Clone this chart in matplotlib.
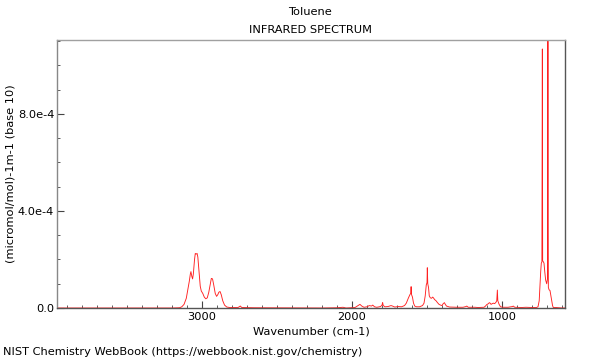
import matplotlib
matplotlib.use("Agg")
import matplotlib.pyplot as plt
from matplotlib.ticker import FixedLocator, MultipleLocator

# Data (wavenumber in cm-1, absorbance in units of 1e-4)
wavenumber = [3967, 3200, 3150, 3135, 3120, 3105, 3095, 3085, 3078, 3074, 3068, 3063, 3058,
              3050, 3045, 3040, 3033, 3028, 3020, 3012, 3005, 2995, 2985, 2975, 2965, 2955,
              2945, 2938, 2930, 2922, 2912, 2903, 2895, 2888, 2880, 2872, 2862, 2850, 2835,
              2815, 2760, 2745, 2735, 2650, 2200, 2100, 2060, 2040, 1980, 1960, 1947, 1935,
              1920, 1900, 1885, 1870, 1862, 1850, 1835, 1810, 1800, 1796, 1792, 1780, 1760,
              1740, 1730, 1715, 1690, 1670, 1650, 1638, 1625, 1614, 1609, 1606, 1603, 1597,
              1590, 1582, 1570, 1550, 1530, 1520, 1512, 1505, 1500, 1498, 1495, 1490, 1485,
              1478, 1470, 1462, 1455, 1450, 1440, 1430, 1420, 1410, 1400, 1392, 1384, 1378,
              1370, 1350, 1300, 1260, 1240, 1235, 1225, 1180, 1160, 1120, 1110, 1102, 1090,
              1085, 1079, 1073, 1065, 1058, 1050, 1042, 1035, 1031, 1028, 1020, 1010, 995,
              960, 930, 925, 915, 870, 840, 800, 770, 760, 752, 747, 742, 738, 734, 731,
              729, 724, 720, 715, 709, 702, 697, 694, 691, 686, 680, 674, 669, 663, 658,
              640, 600, 580]
absorbance_e4 = [0.0, 0.0, 0.01, 0.05, 0.15, 0.4, 0.75, 1.1, 1.4, 1.5, 1.3, 1.2, 1.4,
                 2.0, 2.25, 2.22, 2.25, 2.1, 1.5, 0.9, 0.7, 0.6, 0.45, 0.38, 0.42, 0.65,
                 1.0, 1.22, 1.2, 0.95, 0.6, 0.48, 0.55, 0.65, 0.68, 0.55, 0.3, 0.12, 0.04,
                 0.02, 0.02, 0.08, 0.02, 0.01, 0.0, 0.01, 0.03, 0.0, 0.02, 0.1, 0.15, 0.08,
                 0.03, 0.05, 0.1, 0.08, 0.12, 0.05, 0.03, 0.06, 0.12, 0.23, 0.1, 0.05, 0.06,
                 0.1, 0.08, 0.04, 0.06, 0.05, 0.1, 0.2, 0.4, 0.55, 0.6, 0.88, 0.55, 0.45,
                 0.2, 0.08, 0.05, 0.05, 0.1, 0.2, 0.5, 0.95, 1.05, 1.66, 1.0, 0.85, 0.5,
                 0.42, 0.4, 0.45, 0.4, 0.35, 0.3, 0.22, 0.15, 0.12, 0.1, 0.18, 0.22, 0.15,
                 0.08, 0.04, 0.03, 0.03, 0.06, 0.08, 0.03, 0.03, 0.02, 0.03, 0.08, 0.14, 0.18,
                 0.22, 0.2, 0.15, 0.18, 0.2, 0.18, 0.22, 0.3, 0.74, 0.3, 0.16, 0.05, 0.03,
                 0.03, 0.06, 0.08, 0.03, 0.02, 0.03, 0.02, 0.02, 0.05, 0.3, 0.9, 1.5, 1.85, 1.9, 10.68,
                 1.95, 1.9, 1.85, 1.5, 1.15, 1.0, 1.2, 11.5, 0.85, 0.75, 0.72, 0.5, 0.33, 0.1, 0.02,
                 0.02, 0.0, 0.0]

x_ticks = [3000, 2000, 1000]
x_ticklabels = ["3000", "2000", "1000"]
y_ticks = [0.0, 4e-4, 8e-4]
y_ticklabels = ["0.0", "4.0e-4", "8.0e-4"]

FS = 8.2
plt.rcParams['font.family'] = ['DejaVu Sans']
fig = plt.figure(figsize=(6, 3.6), dpi=100)
ax = fig.add_axes([57/600, 1-308/360, (565-57)/600, (308-40)/360])

ax.plot(wavenumber, [v * 1e-4 for v in absorbance_e4], color='#ff2020', lw=0.65)

ax.set_xlim(3967, 580)
ax.set_ylim(0, 1.105e-3)

ax.xaxis.set_major_locator(FixedLocator(x_ticks))
ax.set_xticklabels(x_ticklabels)
ax.xaxis.set_minor_locator(MultipleLocator(100))
ax.yaxis.set_major_locator(FixedLocator(y_ticks))
ax.set_yticklabels(y_ticklabels)
ax.yaxis.set_minor_locator(MultipleLocator(1e-4))

ax.tick_params(axis='both', which='both', direction='in', colors='#444444',
               labelcolor='black', labelsize=FS, top=False, right=False)
ax.tick_params(axis='both', which='major', length=5, width=0.8)
ax.tick_params(axis='both', which='minor', length=2.5, width=0.6)
ax.tick_params(axis='x', which='major', pad=3)
ax.tick_params(axis='y', which='major', pad=2)

ax.spines['top'].set_color('#a0a0a0')
ax.spines['left'].set_color('#888888')
ax.spines['right'].set_color('#555555')
ax.spines['bottom'].set_color('#555555')
for s in ax.spines.values():
    s.set_linewidth(1.0)

ax.set_xlabel("Wavenumber (cm-1)", fontsize=FS, labelpad=3)
ax.set_ylabel("(micromol/mol)-1m-1 (base 10)", fontsize=FS)
ax.yaxis.set_label_coords(-0.081, 0.5)

fig.text(310/600, 1-12/360, "Toluene", ha='center', va='center', fontsize=FS)
fig.text(310/600, 1-30/360, "INFRARED SPECTRUM", ha='center', va='center', fontsize=FS)
fig.text(3/600, 1-352/360, "NIST Chemistry WebBook (https://webbook.nist.gov/chemistry)",
         ha='left', va='center', fontsize=FS)

fig.savefig("out.png", dpi=100)
